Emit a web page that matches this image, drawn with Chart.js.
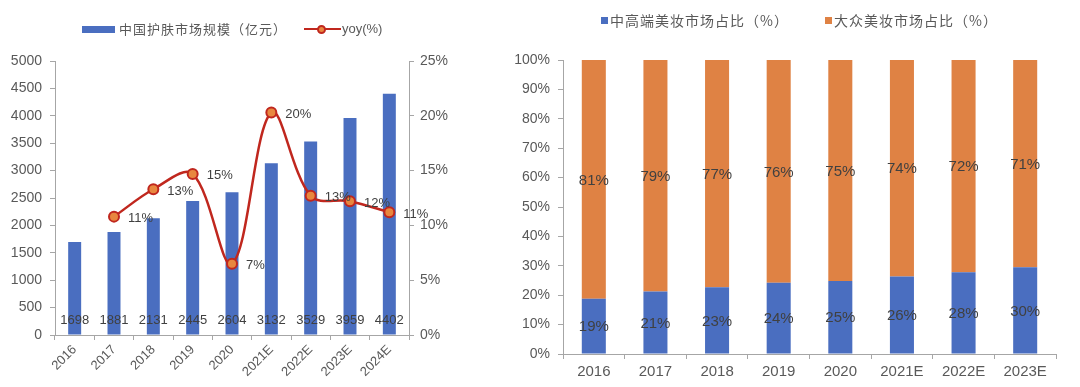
<!DOCTYPE html>
<html>
<head>
<meta charset="utf-8">
<script src="https://cdn.jsdelivr.net/npm/chart.js@4/dist/chart.umd.min.js"></script>
<style>
  body { margin: 0; width: 1080px; height: 387px; background: #fff; position: relative; overflow: hidden; }
  canvas { position: absolute; top: 0; }
  .lg { position: absolute; font-family: "Noto Sans CJK SC", sans-serif; color: #595959; white-space: nowrap; letter-spacing: 1px; }
  .sw { position: absolute; }
</style>
</head>
<body>
<canvas id="left" width="480" height="387" style="left:0"></canvas>
<canvas id="right" width="590" height="387" style="left:490px"></canvas>

<!-- left legend -->
<div class="sw" style="left:82px;top:26px;width:33px;height:7px;background:#4A6EC0"></div>
<div class="lg" style="left:119px;top:19px;font-size:13px">中国护肤市场规模（亿元）</div>
<div class="sw" style="left:304px;top:28px;width:37px;height:2px;background:#C0271E"></div>
<div class="sw" style="left:317px;top:25px;width:5px;height:5px;border:2px solid #C0271E;border-radius:50%;background:#E8873F"></div>
<div class="lg" style="left:342px;top:21px;font-size:13px;font-family:'Liberation Sans',sans-serif;letter-spacing:0">yoy(%)</div>

<!-- right legend -->
<div class="sw" style="left:601px;top:17px;width:7px;height:7px;background:#4A6EC0"></div>
<div class="lg" style="left:610px;top:10px;font-size:14px">中高端美妆市场占比（%）</div>
<div class="sw" style="left:825px;top:17px;width:7px;height:7px;background:#DF8244"></div>
<div class="lg" style="left:834px;top:10px;font-size:14px">大众美妆市场占比（%）</div>

<script>
// left chart: skincare market size and growth
var years = ['2016', '2017', '2018', '2019', '2020', '2021E', '2022E', '2023E', '2024E'];
var marketSize = [1698, 1881, 2131, 2445, 2604, 3132, 3529, 3959, 4402];
var yoy = [null, 10.8, 13.3, 14.7, 6.5, 20.3, 12.7, 12.2, 11.2];

// right chart: share of high-end vs mass cosmetics
var shareYears = ['2016', '2017', '2018', '2019', '2020', '2021E', '2022E', '2023E'];
var highEndShare = [18.8, 21.3, 22.7, 24.2, 24.8, 26.4, 27.8, 29.5];
var massShare = [81.2, 78.7, 77.3, 75.8, 75.2, 73.6, 72.2, 70.5];

var BLUE = '#4A6EC0', ORANGE = '#DF8244', RED = '#C0271E', AXIS = '#A6A6A6', TXT = '#595959';
var FONT = "'Liberation Sans', Arial, sans-serif";

// draws value labels from element positions
var valueLabels = {
  id: 'valueLabels',
  afterDatasetsDraw: function (chart) {
    var ctx = chart.ctx;
    chart.data.datasets.forEach(function (ds, i) {
      var mode = ds.labelMode;
      if (!mode) return;
      var meta = chart.getDatasetMeta(i);
      ctx.save();
      ctx.fillStyle = '#404040';
      ctx.font = (ds.labelSize || 13) + 'px ' + FONT;
      ctx.textBaseline = 'middle';
      meta.data.forEach(function (el, j) {
        var v = ds.data[j];
        if (v == null) return;
        if (mode === 'base') {
          ctx.textAlign = 'center';
          ctx.fillText(String(v), el.x, chart.scales.y.getPixelForValue(0) - 15);
        } else if (mode === 'right') {
          ctx.textAlign = 'left';
          ctx.fillText(Math.round(v) + '%', el.x + 14, el.y + 2);
        } else if (mode === 'center') {
          ctx.textAlign = 'center';
          ctx.fillText(Math.round(v) + '%', el.x, (el.y + el.base) / 2 + 1);
        }
      });
      ctx.restore();
    });
  }
};

function fixW(w) { return function (s) { s.width = w; }; }
function fixH(h) { return function (s) { s.height = h; }; }

new Chart(document.getElementById('left'), {
  type: 'bar',
  data: {
    labels: years,
    datasets: [
      {
        type: 'line', data: yoy, yAxisID: 'y1', order: 0,
        borderColor: RED, borderWidth: 2.5, tension: 0.35, spanGaps: true,
        pointRadius: 5, pointBackgroundColor: '#E8873F', pointBorderColor: RED, pointBorderWidth: 2,
        labelMode: 'right', labelSize: 13
      },
      {
        type: 'bar', data: marketSize, yAxisID: 'y', order: 1,
        backgroundColor: BLUE, barPercentage: 0.33, categoryPercentage: 1,
        labelMode: 'base', labelSize: 13
      }
    ]
  },
  options: {
    responsive: false, animation: false, devicePixelRatio: 1,
    layout: { padding: { top: 61, left: 0, right: 0, bottom: 0 } },
    plugins: { legend: { display: false }, tooltip: { enabled: false } },
    scales: {
      x: {
        afterFit: fixH(52),
        grid: { display: true, drawOnChartArea: false, color: AXIS, tickLength: 5, offset: true },
        border: { color: AXIS, width: 1 },
        ticks: { color: TXT, font: { family: FONT, size: 13 }, minRotation: 45, maxRotation: 45, padding: 2 }
      },
      y: {
        position: 'left', min: 0, max: 5000,
        afterFit: fixW(55),
        grid: { drawOnChartArea: false, color: AXIS, tickLength: 5 },
        border: { color: AXIS, width: 1 },
        ticks: { stepSize: 500, color: TXT, font: { family: FONT, size: 14 }, padding: 8,
                 callback: function (v) { return String(v); } }
      },
      y1: {
        position: 'right', min: 0, max: 25,
        afterFit: fixW(71),
        grid: { drawOnChartArea: false, color: AXIS, tickLength: 5 },
        border: { color: AXIS, width: 1 },
        ticks: { stepSize: 5, color: TXT, font: { family: FONT, size: 14 }, padding: 6,
                 callback: function (v) { return v + '%'; } }
      }
    }
  },
  plugins: [valueLabels]
});

new Chart(document.getElementById('right'), {
  type: 'bar',
  data: {
    labels: shareYears,
    datasets: [
      { data: highEndShare, backgroundColor: BLUE, barPercentage: 0.39, categoryPercentage: 1,
        labelMode: 'center', labelSize: 15 },
      { data: massShare, backgroundColor: ORANGE, barPercentage: 0.39, categoryPercentage: 1,
        labelMode: 'center', labelSize: 15 }
    ]
  },
  options: {
    responsive: false, animation: false, devicePixelRatio: 1,
    layout: { padding: { top: 60, left: 0, right: 24, bottom: 0 } },
    plugins: { legend: { display: false }, tooltip: { enabled: false } },
    scales: {
      x: {
        stacked: true,
        afterFit: fixH(33),
        grid: { display: true, drawOnChartArea: false, color: AXIS, tickLength: 5, offset: true },
        border: { color: AXIS, width: 1 },
        ticks: { color: TXT, font: { family: FONT, size: 15 }, maxRotation: 0, padding: 4 }
      },
      y: {
        stacked: true, min: 0, max: 100,
        afterFit: fixW(73),
        grid: { drawOnChartArea: false, color: AXIS, tickLength: 5 },
        border: { color: AXIS, width: 1 },
        ticks: { stepSize: 10, color: TXT, font: { family: FONT, size: 14 }, padding: 8,
                 callback: function (v) { return v + '%'; } }
      }
    }
  },
  plugins: [valueLabels]
});
</script>
</body>
</html>
